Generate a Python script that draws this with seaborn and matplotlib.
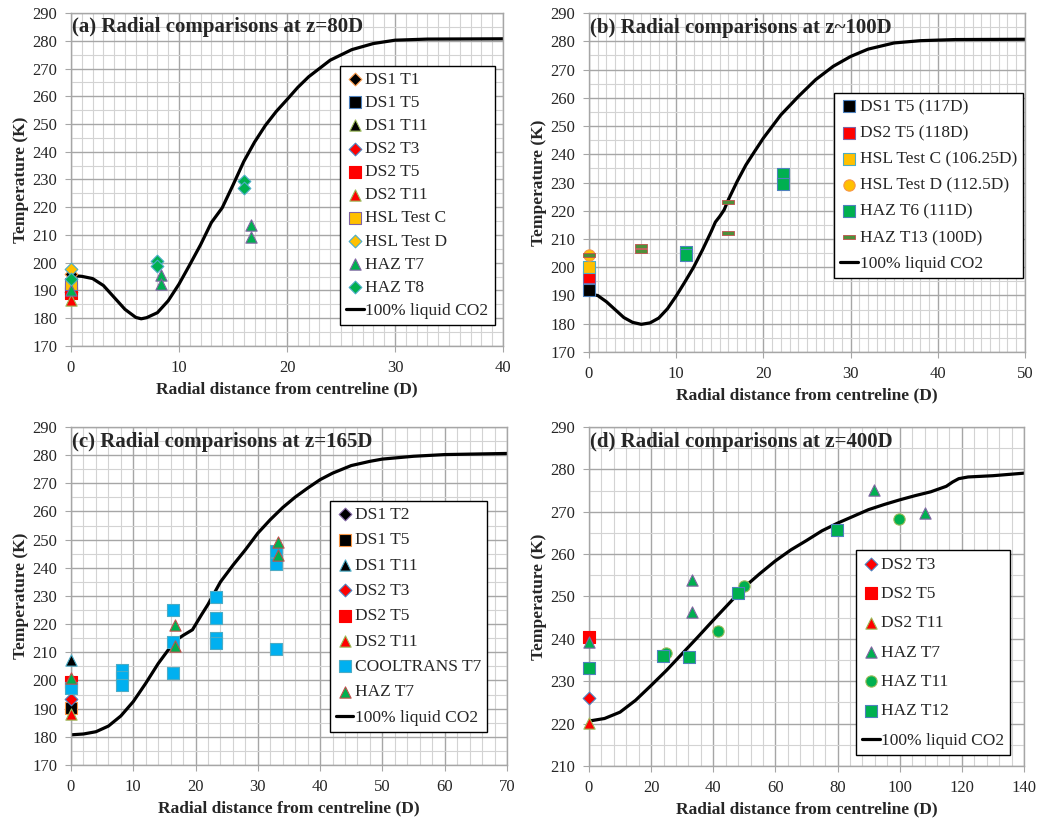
import matplotlib
matplotlib.use('Agg')
import matplotlib.pyplot as plt
from matplotlib.ticker import MultipleLocator
import seaborn as sns

sns.set_style('white')
plt.rcParams['font.family'] = ['Liberation Serif', 'DejaVu Serif']

# ----- (a) z = 80D -----
a_labels = ['DS1 T1', 'DS1 T5', 'DS1 T11', 'DS2 T3', 'DS2 T5', 'DS2 T11',
            'HSL Test C', 'HSL Test D', 'HAZ T7', 'HAZ T8']
a_x = [[0], [0], [0], [0], [0], [0], [0], [0],
       [0, 8.3, 8.3, 16.7, 16.7], [0, 8.0, 8.0, 16.0, 16.0]]
a_y = [[196.0], [190.5], [191.0], [189.5], [189.0], [186.5], [192.2], [197.8],
       [190.2, 195.5, 192.3, 213.5, 209.4], [194.3, 200.6, 198.8, 229.4, 227.0]]
a_line_x = [0, 1, 2, 3, 4, 5, 6, 6.5, 7, 8, 9, 10, 11, 12, 13, 14, 15, 16, 17,
            18, 19, 20, 21, 22, 24, 26, 28, 30, 33, 40]
a_line_y = [195.4, 195.1, 194.3, 191.8, 187.5, 183.2, 180.3, 179.8, 180.2, 182.0,
            186.3, 192.3, 199.3, 206.5, 214.5, 219.8, 228.0, 236.5, 243.5, 249.5,
            254.5, 258.8, 263.2, 267.0, 273.0, 276.8, 279.0, 280.2, 280.6, 280.7]

# ----- (b) z ~ 100D -----
b_labels = ['DS1 T5 (117D)', 'DS2 T5 (118D)', 'HSL Test C (106.25D)',
            'HSL Test D (112.5D)', 'HAZ T6 (111D)', 'HAZ T13 (100D)']
b_x = [[0], [0], [0], [0], [11.1, 11.1, 22.2, 22.2], [0, 6.0, 6.0, 16.0, 16.0]]
b_y = [[192.1], [196.4], [200.1], [204.5], [205.5, 204.3, 233.0, 229.6],
       [204.3, 207.5, 205.7, 223.0, 212.1]]
b_line_x = [0, 1, 2, 3, 4, 5, 6, 7, 8, 9, 10, 11, 12, 13, 14, 14.5, 15, 15.5, 16,
            17, 18, 19, 20, 22, 24, 26, 28, 30, 32, 35, 38, 42, 50]
b_line_y = [190.5, 190.0, 187.8, 185.0, 182.2, 180.5, 179.8, 180.3, 182.0, 185.3,
            189.8, 194.8, 200.0, 206.0, 212.5, 216.0, 218.0, 220.3, 224.0, 230.4,
            236.2, 241.0, 245.7, 253.9, 260.4, 266.4, 271.1, 274.6, 277.2, 279.4,
            280.2, 280.6, 280.7]

# ----- (c) z = 165D -----
c_labels = ['DS1 T2', 'DS1 T5', 'DS1 T11', 'DS2 T3', 'DS2 T5', 'DS2 T11',
            'COOLTRANS T7', 'HAZ T7']
c_x = [[0], [0], [0], [0], [0], [0],
       [0, 8.2, 8.2, 8.2, 16.4, 16.4, 16.4, 23.3, 23.3, 23.3, 23.3, 32.9, 32.9, 32.9],
       [0, 16.7, 16.7, 33.3, 33.3]]
c_y = [[190.0], [190.1], [207.1], [193.3], [199.6], [188.1],
       [197.5, 203.8, 201.2, 198.3, 225.1, 213.6, 202.6, 229.5, 222.1, 215.0, 213.2,
        245.8, 241.4, 211.2],
       [200.8, 219.7, 212.3, 249.2, 244.5]]
c_line_x = [0, 2, 4, 6, 8, 10, 12, 14, 16, 17, 18, 19.5, 21, 22, 24, 26, 28, 30, 32,
            34, 36, 38, 40, 42, 45, 48, 50, 55, 60, 70]
c_line_y = [180.7, 181.0, 181.8, 183.8, 187.4, 192.5, 199.0, 206.0, 212.0, 214.5,
            216.0, 218.0, 223.5, 227.0, 235.0, 240.9, 246.4, 252.3, 257.1, 261.4,
            265.1, 268.3, 271.3, 273.6, 276.3, 277.8, 278.6, 279.6, 280.2, 280.6]

# ----- (d) z = 400D -----
d_labels = ['DS2 T3', 'DS2 T5', 'DS2 T11', 'HAZ T7', 'HAZ T11', 'HAZ T12']
d_x = [[0], [0], [0], [0, 33.3, 33.3, 91.7, 108.3], [24.8, 41.6, 50.0, 99.9],
       [0, 23.9, 32.1, 47.9, 79.9]]
d_y = [[226.1], [240.4], [220.2], [239.3, 253.8, 246.3, 275.1, 269.8],
       [236.7, 241.8, 252.4, 268.2], [233.1, 236.0, 235.6, 250.9, 265.8]]
d_line_x = [0, 5, 10, 15, 20, 25, 30, 35, 40, 45, 50, 55, 60, 65, 70, 75, 80, 85,
            90, 95, 100, 105, 110, 115, 117, 119, 122, 130, 140]
d_line_y = [220.6, 221.2, 222.7, 225.5, 229.0, 232.6, 236.5, 240.4, 244.4, 248.3,
            252.2, 255.4, 258.4, 261.0, 263.2, 265.5, 267.3, 268.9, 270.5, 271.7,
            272.8, 273.8, 274.7, 276.0, 277.0, 277.8, 278.2, 278.5, 279.1]

# Excel-like marker styles
BLACK, RED, GOLD, GREEN, CYAN = '#000000', '#FF0000', '#FFC000', '#00B050', '#00B0F0'
E_BLUE, E_RED, E_OLIVE, E_PURP, E_TEAL, E_ORNG = ('#4F81BD', '#C0504D', '#9BBB59',
                                                  '#8064A2', '#4BACC6', '#F79646')
DASH = [(-1, -0.28), (1, -0.28), (1, 0.28), (-1, 0.28), (-1, -0.28)]

a_style = [('D', BLACK, E_ORNG), ('s', BLACK, E_BLUE), ('^', BLACK, E_OLIVE),
           ('D', RED, E_BLUE), ('s', RED, RED), ('^', RED, E_OLIVE),
           ('s', GOLD, E_PURP), ('D', GOLD, E_TEAL), ('^', GREEN, E_PURP),
           ('D', GREEN, E_TEAL)]
b_style = [('s', BLACK, E_BLUE), ('s', RED, E_PURP), ('s', GOLD, E_TEAL),
           ('o', GOLD, E_ORNG), ('s', GREEN, E_BLUE), (DASH, '#4E8F3A', E_RED)]
c_style = [('D', BLACK, E_PURP), ('s', BLACK, E_ORNG), ('^', BLACK, E_TEAL),
           ('D', RED, E_BLUE), ('s', RED, RED), ('^', RED, E_OLIVE),
           ('s', CYAN, E_TEAL), ('^', GREEN, E_RED)]
d_style = [('D', RED, E_BLUE), ('s', RED, RED), ('^', RED, E_OLIVE),
           ('^', GREEN, E_PURP), ('o', GREEN, E_OLIVE), ('s', GREEN, E_BLUE)]


def marker_size(m):
    if m == 'D':
        return 42
    if isinstance(m, list):
        return 85
    return 66


def draw_panel(ax, title, labels, xs, ys, styles, lx, ly, xlim, ylim, xmaj, xmin,
               leg_anchor, leg_spacing):
    for lab, x, y, (m, fc, ec) in zip(labels, xs, ys, styles):
        lw = 0.6 if isinstance(m, list) else 0.8
        sns.scatterplot(x=x, y=y, ax=ax, marker=m, color=fc, edgecolor=ec,
                        linewidth=lw, s=marker_size(m), label=lab, zorder=3,
                        clip_on=False)
    sns.lineplot(x=lx, y=ly, ax=ax, color='black', lw=2.3, sort=False,
                 estimator=None, label='100% liquid CO2', zorder=2)
    ax.set_xlim(*xlim)
    ax.set_ylim(*ylim)
    ax.xaxis.set_major_locator(MultipleLocator(xmaj))
    ax.xaxis.set_minor_locator(MultipleLocator(xmin))
    ax.yaxis.set_major_locator(MultipleLocator(10))
    ax.yaxis.set_minor_locator(MultipleLocator(5))
    ax.grid(which='major', color='#A6A6A6', lw=1.0)
    ax.grid(which='minor', color='#D3D3D3', lw=0.8)
    ax.set_axisbelow(True)
    for sp in ax.spines.values():
        sp.set_color('#A6A6A6')
        sp.set_linewidth(1.0)
    ax.tick_params(which='major', direction='out', length=4, color='#A6A6A6',
                   labelsize=12, pad=6, bottom=True, left=True)
    ax.tick_params(which='minor', length=0)
    ax.set_xlabel('Radial distance from centreline (D)', fontsize=12.5,
                  fontweight='bold', labelpad=4)
    ax.set_ylabel('Temperature (K)', fontsize=12.5, fontweight='bold', labelpad=2)
    ax.text(0.003, 0.957, title, transform=ax.transAxes, fontsize=15,
            fontweight='bold', ha='left', va='center')
    leg = ax.legend(loc='upper left', bbox_to_anchor=leg_anchor, fontsize=12.5,
                    frameon=True, fancybox=False, framealpha=1, edgecolor='black',
                    handlelength=1.0, handletextpad=0.1, borderpad=0.35,
                    labelspacing=leg_spacing, borderaxespad=0)
    leg.get_frame().set_linewidth(1.0)


fig = plt.figure(figsize=(10.38, 8.23), dpi=100)
ax_a = fig.add_axes([0.0684, 0.5796, 0.4162, 0.4046])
ax_b = fig.add_axes([0.5674, 0.5723, 0.4200, 0.4119])
ax_c = fig.add_axes([0.0684, 0.0705, 0.4200, 0.4107])
ax_d = fig.add_axes([0.5674, 0.0693, 0.4191, 0.4119])

draw_panel(ax_a, '(a) Radial comparisons at z=80D', a_labels, a_x, a_y, a_style,
           a_line_x, a_line_y, (0, 40), (170, 290), 10, 1, (0.623, 0.842), 0.40)
draw_panel(ax_b, '(b) Radial comparisons at z~100D', b_labels, b_x, b_y, b_style,
           b_line_x, b_line_y, (0, 50), (170, 290), 10, 1, (0.563, 0.765), 0.58)
draw_panel(ax_c, '(c) Radial comparisons at z=165D', c_labels, c_x, c_y, c_style,
           c_line_x, c_line_y, (0, 70), (170, 290), 10, 2, (0.594, 0.782), 0.53)
draw_panel(ax_d, '(d) Radial comparisons at z=400D', d_labels, d_x, d_y, d_style,
           d_line_x, d_line_y, (0, 140), (210, 290), 20, 4, (0.614, 0.636), 0.76)

fig.savefig('out.png', dpi=100)
